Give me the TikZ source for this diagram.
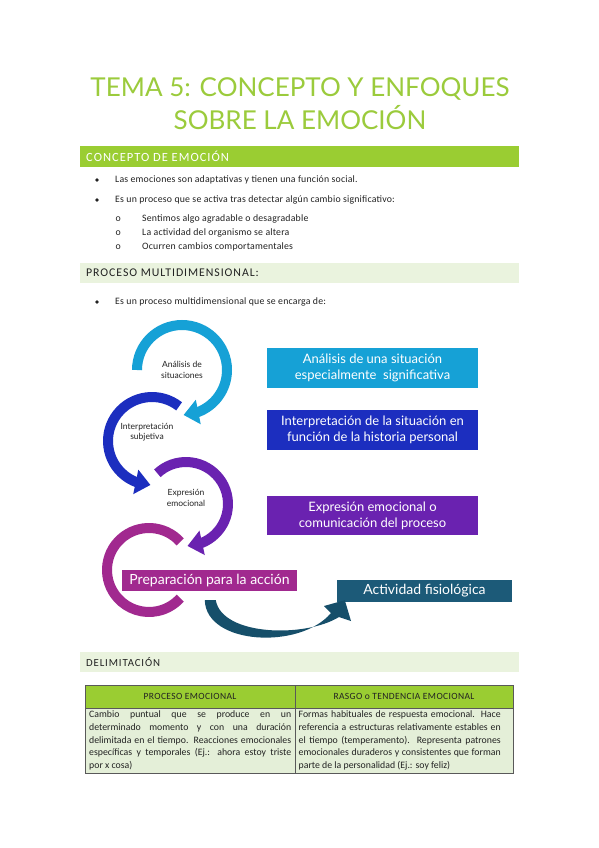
\documentclass[tikz,border=0pt]{standalone}
\usepackage{fontspec}
\setmainfont{Carlito}
\newfontfamily\titlefont{Lato}
\newfontfamily\headfont[LetterSpace=8]{Carlito}
\newfontfamily\cellfont[LetterSpace=4]{Carlito}
\newfontfamily\bodyfont[LetterSpace=2]{Carlito}
\newfontfamily\diagfont{Lato}
\usetikzlibrary{arrows.meta, bending, calc}
\newcommand{\fullline}[1]{\makebox[202pt][s]{#1}}
\definecolor{TitleGreen}{HTML}{9BCB3C}
\definecolor{BarGreen}{HTML}{9ACD32}
\definecolor{PaleGreen}{HTML}{EAF3DE}
\definecolor{CellGreen}{HTML}{E4EFD8}
\definecolor{StepCyan}{HTML}{16A1D6}
\definecolor{StepBlue}{HTML}{1C2EBF}
\definecolor{StepPurple}{HTML}{6A22B0}
\definecolor{StepMagenta}{HTML}{A1298F}
\definecolor{PhysioTeal}{HTML}{1C5A78}
\definecolor{ArrowTeal}{HTML}{164F6A}
\definecolor{TextGray}{HTML}{222222}
\tikzset{
  titleline/.style={anchor=base, font=\titlefont\fontsize{26}{30}\selectfont, text=TitleGreen, inner sep=0pt},
  barlabel/.style={anchor=west, font=\headfont\fontsize{#1}{13}\selectfont, inner sep=0pt},
  barlabel/.default=11.5,
  bullettext/.style={anchor=west, font=\bodyfont\fontsize{9.8}{12}\selectfont, text=TextGray, inner sep=0pt},
  stepbox/.style={text=white, align=center, font=\diagfont\fontsize{13}{16}\selectfont, minimum width=211pt, minimum height=40pt, inner sep=0pt},
  steplabel/.style={align=center, font=\diagfont\fontsize{8.5}{10.5}\selectfont, text=TextGray},
  ring/.style={line width=10pt},
  ringarrow/.style={ring, -{Triangle[width=24pt, length=15pt]}},
  cellhead/.style={font=\cellfont\fontsize{9.5}{11}\selectfont, text=TextGray, inner sep=0pt},
  celltext/.style={anchor=north west, align=left, font=\fontsize{9.8}{12.8}\selectfont, text=TextGray, inner sep=0pt}
}

\begin{document}
\begin{tikzpicture}[x=1pt, y=-1pt]
\useasboundingbox (0,0) rectangle (599,848);
\fill[white] (0,0) rectangle (599,848);

% title
\node[titleline] (title1) at (300,97) {TEMA 5: CONCEPTO Y ENFOQUES};
\node[titleline] (title2) at (300,130) {SOBRE LA EMOCIÓN};

% concepto
\fill[BarGreen] (80,146) rectangle (519,167);
\node[barlabel=12.5, text=white] (concept) at (86,156.5) {CONCEPTO DE EMOCIÓN};
\fill[TextGray] (97,180) circle[radius=1.8];
\node[bullettext] (adapt) at (115,180) {Las emociones son adaptativas y tienen una función social.};
\fill[TextGray] (97,200) circle[radius=1.8];
\node[bullettext] (change) at (115,200) {Es un proceso que se activa tras detectar algún cambio significativo:};
\foreach \yy/\txt in {219/Sentimos algo agradable o desagradable, 233/La actividad del organismo se altera, 247/Ocurren cambios comportamentales} {
  \node[bullettext] at (115.5,\yy) {o};
  \node[bullettext] at (142,\yy) {\txt};
}

% proceso multidimensional
\fill[PaleGreen] (80,263) rectangle (519,283);
\node[barlabel=11.8, text=TextGray] (multi) at (86,273) {PROCESO MULTIDIMENSIONAL:};
\fill[TextGray] (97,302) circle[radius=1.8];
\node[bullettext] (multitext) at (115,302) {Es un proceso multidimensional que se encarga de:};

% ciclo
\coordinate (c1) at (182,370);
\coordinate (c2) at (152,441);
\coordinate (c3) at (186,504);
\coordinate (c4) at (149,570);
\draw[ring, StepMagenta] ($(c4)+(-42:42)$) arc[start angle=-42, end angle=-318, radius=42];
\draw[ringarrow, StepPurple] ($(c3)+(227:42)$) arc[start angle=227, end angle=448, radius=42];
\draw[ringarrow, StepBlue] ($(c2)+(-52:44)$) arc[start angle=-52, end angle=-268, radius=44];
\draw[ringarrow, StepCyan] ($(c1)+(180:45)$) arc[start angle=180, end angle=448, radius=45];
\node[steplabel] (lab1) at (c1) {Análisis de\\situaciones};
\node[steplabel] (lab2) at ($(c2)+(-5,-9)$) {Interpretación\\subjetiva};
\node[steplabel] (lab3) at ($(c3)+(0,-6)$) {Expresión\\emocional};

\node[stepbox, fill=StepCyan] (analysis) at (372.5,368) {Análisis de una situación\\especialmente\ \ significativa};
\node[stepbox, fill=StepBlue] (interp) at (372.5,430) {Interpretación de la situación en\\función de la historia personal};
\node[stepbox, fill=StepPurple, minimum height=39pt] (express) at (372.5,515.5) {Expresión emocional o\\comunicación del proceso};
\node[stepbox, fill=StepMagenta, minimum width=175pt, minimum height=21pt, font=\diagfont\fontsize{14}{16}\selectfont] (prep) at (209.5,580.5) {Preparación para la acción};
\node[stepbox, fill=PhysioTeal, minimum width=175pt, minimum height=22pt, font=\diagfont\fontsize{14}{16}\selectfont] (physio) at (424.5,591) {Actividad fisiológica};

% flecha curva
\coordinate (s1) at ($(prep.south west)+(83,9)$);
\coordinate (s2) at ($(prep.south west)+(94,9)$);
\coordinate (tip) at ($(physio.south west)+(8,-2)$);
\fill[ArrowTeal] (s1) .. controls (206,645) and (300,650) .. (331,613)
  -- (324,606) -- (tip) -- (351,621) -- (339,617)
  .. controls (305,638) and (222,636) .. (s2) -- cycle;

% delimitacion
\fill[PaleGreen] (80,652) rectangle (519,672);
\node[barlabel=10.8, text=TextGray] (delim) at (86,662) {DELIMITACIÓN};

% tabla
\fill[BarGreen] (85,685) rectangle (513,708);
\fill[CellGreen] (85,708) rectangle (513,773);
\draw[gray!70!black, line width=0.8pt] (85,685) rectangle (513,773);
\draw[gray!70!black, line width=0.8pt] (85,708) -- (513,708);
\draw[gray!70!black, line width=0.8pt] (295,685) -- (295,773);
\node[cellhead] (prochead) at (190,696.5) {PROCESO EMOCIONAL};
\node[cellhead] (traithead) at (404,696.5) {RASGO o TENDENCIA EMOCIONAL};
\node[celltext] (proctext) at (89,710.5) {\fullline{Cambio puntual que se produce en un}\\
  \fullline{determinado momento y con una duración}\\
  \fullline{delimitada en el tiempo. Reacciones emocionales}\\
  \fullline{específicas y temporales (Ej.: ahora estoy triste}\\
  por x cosa)};
\node[celltext] (traittext) at (298.5,710.5) {\fullline{Formas habituales de respuesta emocional. Hace}\\
  \fullline{referencia a estructuras relativamente estables en}\\
  \fullline{el tiempo (temperamento). Representa patrones}\\
  \fullline{emocionales duraderos y consistentes que forman}\\
  parte de la personalidad (Ej.: soy feliz)};
\end{tikzpicture}
\end{document}
